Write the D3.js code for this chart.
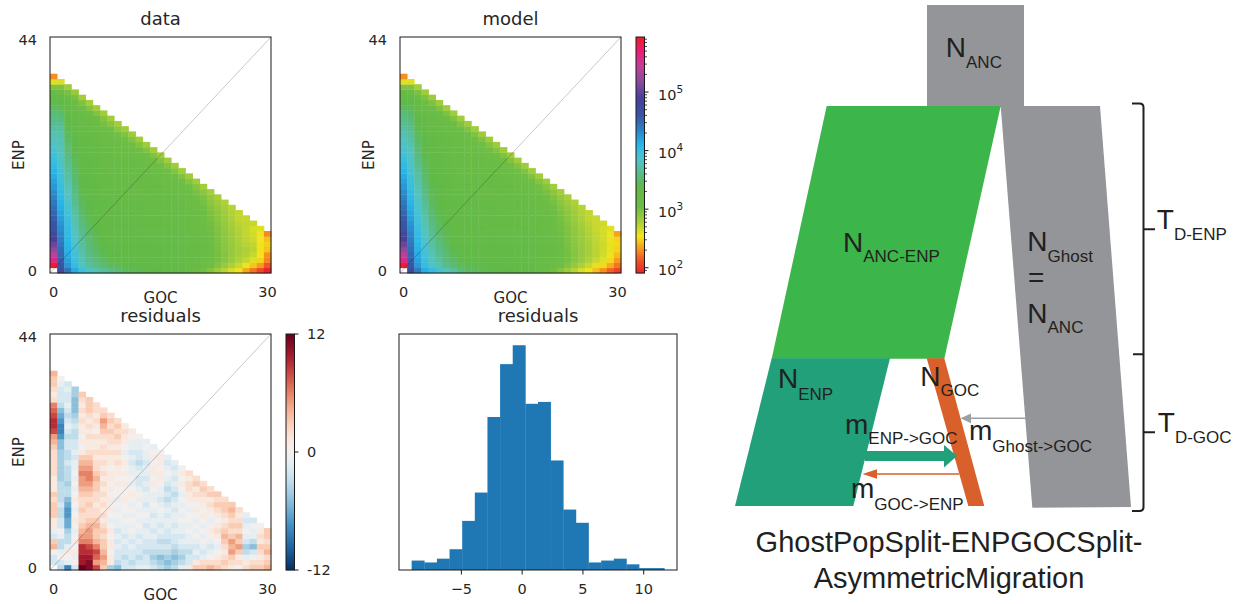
<!DOCTYPE html>
<html>
<head>
<meta charset="utf-8">
<script src="https://cdn.jsdelivr.net/npm/d3@7/dist/d3.min.js"></script>
<style>
  html, body { margin: 0; padding: 0; background: #fff; }
  svg { display: block; }
</style>
</head>
<body>
<svg id="fig" width="1257" height="604"></svg>
<script>
// ---------------------------------------------------------------------------
// Folded 2D site frequency spectrum, GOC (x, 0..30) vs ENP (y, 0..44).
// Each inner array is one GOC count; its index is the ENP count.
// Cells with ENP + GOC > 37 are folded away, and [0][0] is masked (null).
// Values are log10 of the SNP counts.
// ---------------------------------------------------------------------------
const gocMax = 30;
const enpMax = 44;
const xTickValues = [0, 30];
const yTickValues = [0, 44];

const dataLog10 = [
  [null,5.9,5.6,5.4,5.2,5.05,4.9,4.75,4.65,4.6,4.55,4.5,4.45,4.4,4.35,4.3,4.25,4.2,4.15,4.1,4.05,4.0,3.95,3.9,3.85,3.8,3.75,3.7,3.65,3.6,3.55,3.5,3.4,3.3,3.15,2.95,2.6,2.3],
  [4.75,4.6,4.55,4.5,4.46,4.42,4.38,4.34,4.3,4.26,4.22,4.18,4.14,4.1,4.06,4.03,4.0,3.97,3.94,3.91,3.88,3.85,3.82,3.8,3.78,3.77,3.73,3.69,3.65,3.58,3.52,3.45,3.37,3.28,3.12,2.95,2.62],
  [4.43,4.25,4.2,4.15,4.12,4.1,4.07,4.05,4.03,4.0,3.98,3.94,3.91,3.87,3.83,3.8,3.78,3.74,3.71,3.68,3.65,3.62,3.59,3.56,3.53,3.5,3.47,3.43,3.41,3.37,3.33,3.28,3.22,3.12,2.99,2.82],
  [4.16,4.02,3.98,3.94,3.92,3.88,3.86,3.83,3.8,3.76,3.74,3.71,3.68,3.64,3.62,3.6,3.57,3.55,3.52,3.5,3.47,3.46,3.43,3.41,3.39,3.36,3.34,3.31,3.28,3.26,3.22,3.16,3.09,2.99,2.85],
  [3.97,3.83,3.78,3.74,3.7,3.68,3.66,3.63,3.61,3.58,3.55,3.52,3.49,3.47,3.44,3.42,3.4,3.38,3.36,3.34,3.34,3.32,3.32,3.3,3.28,3.27,3.25,3.22,3.19,3.17,3.12,3.07,2.96,2.8],
  [3.85,3.69,3.64,3.61,3.57,3.56,3.53,3.5,3.49,3.46,3.44,3.42,3.4,3.38,3.36,3.35,3.32,3.31,3.29,3.28,3.28,3.27,3.26,3.26,3.24,3.21,3.2,3.17,3.15,3.1,3.04,2.95,2.8],
  [3.75,3.62,3.56,3.52,3.5,3.47,3.44,3.42,3.4,3.38,3.37,3.34,3.34,3.33,3.3,3.29,3.28,3.27,3.26,3.26,3.24,3.24,3.21,3.21,3.2,3.17,3.16,3.14,3.09,3.05,2.95,2.81],
  [3.67,3.55,3.49,3.44,3.41,3.37,3.36,3.33,3.32,3.31,3.29,3.29,3.27,3.27,3.25,3.25,3.23,3.23,3.21,3.21,3.19,3.19,3.17,3.16,3.16,3.13,3.1,3.06,3.0,2.94,2.81],
  [3.59,3.46,3.41,3.38,3.35,3.33,3.32,3.31,3.3,3.29,3.28,3.27,3.26,3.25,3.24,3.23,3.22,3.21,3.2,3.19,3.18,3.17,3.15,3.15,3.12,3.1,3.06,3.02,2.93,2.81],
  [3.55,3.46,3.41,3.38,3.35,3.33,3.32,3.31,3.3,3.29,3.27,3.27,3.25,3.25,3.23,3.22,3.2,3.2,3.18,3.17,3.15,3.15,3.13,3.12,3.09,3.05,3.01,2.92,2.8],
  [3.47,3.41,3.37,3.34,3.32,3.31,3.3,3.29,3.28,3.27,3.26,3.25,3.24,3.23,3.22,3.21,3.2,3.19,3.18,3.17,3.16,3.15,3.13,3.11,3.08,3.03,2.95,2.82],
  [3.44,3.39,3.35,3.33,3.31,3.3,3.29,3.28,3.27,3.26,3.25,3.24,3.23,3.22,3.21,3.2,3.19,3.18,3.17,3.16,3.15,3.13,3.11,3.08,3.03,2.95,2.82],
  [3.42,3.37,3.34,3.32,3.3,3.29,3.28,3.27,3.26,3.25,3.24,3.23,3.22,3.21,3.2,3.19,3.18,3.17,3.16,3.15,3.13,3.11,3.08,3.03,2.95,2.82],
  [3.4,3.36,3.33,3.31,3.29,3.28,3.27,3.26,3.25,3.24,3.23,3.22,3.21,3.2,3.19,3.18,3.17,3.16,3.15,3.13,3.11,3.08,3.03,2.95,2.82],
  [3.38,3.34,3.31,3.29,3.28,3.27,3.26,3.25,3.24,3.23,3.22,3.21,3.2,3.19,3.18,3.17,3.16,3.15,3.13,3.11,3.08,3.03,2.95,2.82],
  [3.36,3.32,3.3,3.28,3.27,3.26,3.25,3.24,3.23,3.22,3.21,3.2,3.19,3.18,3.17,3.16,3.15,3.13,3.11,3.08,3.03,2.95,2.82],
  [3.34,3.31,3.29,3.27,3.26,3.25,3.24,3.23,3.22,3.21,3.2,3.19,3.18,3.17,3.16,3.15,3.13,3.11,3.08,3.03,2.95,2.82],
  [3.32,3.29,3.27,3.26,3.25,3.24,3.23,3.22,3.21,3.2,3.19,3.18,3.17,3.16,3.15,3.13,3.11,3.08,3.03,2.95,2.82],
  [3.28,3.27,3.26,3.25,3.24,3.23,3.22,3.21,3.2,3.19,3.18,3.17,3.16,3.15,3.13,3.11,3.08,3.03,2.95,2.82],
  [3.15,3.2,3.22,3.22,3.21,3.2,3.19,3.18,3.17,3.16,3.15,3.14,3.13,3.11,3.09,3.06,3.02,2.94,2.82],
  [3.1,3.16,3.18,3.18,3.17,3.16,3.15,3.14,3.13,3.12,3.11,3.1,3.08,3.06,3.03,2.99,2.93,2.82],
  [3.02,3.1,3.13,3.13,3.12,3.11,3.1,3.09,3.08,3.07,3.06,3.04,3.02,2.99,2.96,2.91,2.81],
  [2.93,3.03,3.07,3.07,3.06,3.05,3.04,3.03,3.02,3.01,2.99,2.97,2.94,2.91,2.87,2.8],
  [2.83,2.95,3.0,3.0,2.99,2.98,2.97,2.96,2.95,2.94,2.92,2.9,2.87,2.83,2.78],
  [2.73,2.86,2.92,2.93,2.92,2.91,2.9,2.89,2.88,2.86,2.84,2.82,2.79,2.76],
  [2.62,2.77,2.84,2.86,2.86,2.85,2.84,2.83,2.81,2.79,2.77,2.75,2.73],
  [2.52,2.68,2.76,2.79,2.79,2.78,2.77,2.76,2.74,2.72,2.7,2.7],
  [2.36,2.56,2.69,2.75,2.77,2.73,2.71,2.69,2.69,2.7,2.69],
  [2.22,2.45,2.6,2.68,2.72,2.7,2.66,2.65,2.63,2.69],
  [2.08,2.33,2.48,2.53,2.52,2.56,2.53,2.55,2.6],
  [1.86,2.12,2.27,2.3,2.44,2.47,2.43,2.28]
];

const modelLog10 = [
  [null,5.9,5.6,5.4,5.2,5.05,4.9,4.75,4.65,4.6,4.55,4.5,4.45,4.4,4.35,4.3,4.25,4.2,4.15,4.1,4.05,4.0,3.95,3.9,3.85,3.8,3.75,3.7,3.65,3.6,3.55,3.5,3.4,3.3,3.15,2.95,2.6,2.3],
  [4.75,4.6,4.55,4.5,4.46,4.42,4.38,4.34,4.3,4.26,4.22,4.18,4.14,4.1,4.06,4.03,4.0,3.97,3.94,3.91,3.88,3.85,3.82,3.79,3.76,3.72,3.68,3.64,3.6,3.55,3.5,3.44,3.36,3.27,3.12,2.95,2.6],
  [4.4,4.25,4.2,4.16,4.12,4.09,4.06,4.03,4.0,3.97,3.94,3.91,3.88,3.85,3.82,3.79,3.76,3.73,3.7,3.67,3.64,3.61,3.58,3.55,3.52,3.49,3.46,3.43,3.4,3.36,3.32,3.27,3.21,3.11,2.98,2.8],
  [4.15,4.02,3.98,3.95,3.92,3.89,3.86,3.83,3.8,3.77,3.74,3.71,3.68,3.65,3.62,3.6,3.57,3.55,3.52,3.5,3.47,3.45,3.43,3.4,3.38,3.35,3.33,3.3,3.27,3.24,3.2,3.14,3.07,2.97,2.82],
  [4.02,3.87,3.82,3.78,3.74,3.71,3.68,3.65,3.62,3.59,3.56,3.53,3.5,3.48,3.46,3.44,3.42,3.4,3.38,3.36,3.35,3.33,3.32,3.3,3.28,3.27,3.25,3.22,3.2,3.17,3.13,3.07,2.97,2.82],
  [3.9,3.74,3.69,3.65,3.61,3.58,3.55,3.52,3.5,3.47,3.45,3.43,3.41,3.39,3.37,3.36,3.34,3.33,3.31,3.3,3.29,3.28,3.27,3.26,3.24,3.22,3.2,3.18,3.15,3.11,3.06,2.97,2.82],
  [3.78,3.64,3.58,3.54,3.51,3.48,3.45,3.43,3.41,3.39,3.37,3.35,3.34,3.33,3.31,3.3,3.29,3.28,3.27,3.26,3.25,3.24,3.22,3.21,3.2,3.18,3.16,3.14,3.1,3.05,2.96,2.82],
  [3.68,3.56,3.5,3.45,3.41,3.38,3.36,3.34,3.32,3.31,3.3,3.29,3.28,3.27,3.26,3.25,3.24,3.23,3.22,3.21,3.2,3.19,3.18,3.17,3.16,3.14,3.12,3.09,3.04,2.96,2.82],
  [3.55,3.46,3.41,3.38,3.35,3.33,3.32,3.31,3.3,3.29,3.28,3.27,3.26,3.25,3.24,3.23,3.22,3.21,3.2,3.19,3.18,3.17,3.16,3.15,3.13,3.11,3.08,3.03,2.95,2.82],
  [3.5,3.43,3.39,3.36,3.34,3.32,3.31,3.3,3.29,3.28,3.27,3.26,3.25,3.24,3.23,3.22,3.21,3.2,3.19,3.18,3.17,3.16,3.15,3.13,3.11,3.08,3.03,2.95,2.82],
  [3.47,3.41,3.37,3.34,3.32,3.31,3.3,3.29,3.28,3.27,3.26,3.25,3.24,3.23,3.22,3.21,3.2,3.19,3.18,3.17,3.16,3.15,3.13,3.11,3.08,3.03,2.95,2.82],
  [3.44,3.39,3.35,3.33,3.31,3.3,3.29,3.28,3.27,3.26,3.25,3.24,3.23,3.22,3.21,3.2,3.19,3.18,3.17,3.16,3.15,3.13,3.11,3.08,3.03,2.95,2.82],
  [3.42,3.37,3.34,3.32,3.3,3.29,3.28,3.27,3.26,3.25,3.24,3.23,3.22,3.21,3.2,3.19,3.18,3.17,3.16,3.15,3.13,3.11,3.08,3.03,2.95,2.82],
  [3.4,3.36,3.33,3.31,3.29,3.28,3.27,3.26,3.25,3.24,3.23,3.22,3.21,3.2,3.19,3.18,3.17,3.16,3.15,3.13,3.11,3.08,3.03,2.95,2.82],
  [3.38,3.34,3.31,3.29,3.28,3.27,3.26,3.25,3.24,3.23,3.22,3.21,3.2,3.19,3.18,3.17,3.16,3.15,3.13,3.11,3.08,3.03,2.95,2.82],
  [3.36,3.32,3.3,3.28,3.27,3.26,3.25,3.24,3.23,3.22,3.21,3.2,3.19,3.18,3.17,3.16,3.15,3.13,3.11,3.08,3.03,2.95,2.82],
  [3.34,3.31,3.29,3.27,3.26,3.25,3.24,3.23,3.22,3.21,3.2,3.19,3.18,3.17,3.16,3.15,3.13,3.11,3.08,3.03,2.95,2.82],
  [3.32,3.29,3.27,3.26,3.25,3.24,3.23,3.22,3.21,3.2,3.19,3.18,3.17,3.16,3.15,3.13,3.11,3.08,3.03,2.95,2.82],
  [3.28,3.27,3.26,3.25,3.24,3.23,3.22,3.21,3.2,3.19,3.18,3.17,3.16,3.15,3.13,3.11,3.08,3.03,2.95,2.82],
  [3.15,3.2,3.22,3.22,3.21,3.2,3.19,3.18,3.17,3.16,3.15,3.14,3.13,3.11,3.09,3.06,3.02,2.94,2.82],
  [3.1,3.16,3.18,3.18,3.17,3.16,3.15,3.14,3.13,3.12,3.11,3.1,3.08,3.06,3.03,2.99,2.93,2.82],
  [3.02,3.1,3.13,3.13,3.12,3.11,3.1,3.09,3.08,3.07,3.06,3.04,3.02,2.99,2.96,2.91,2.81],
  [2.93,3.03,3.07,3.07,3.06,3.05,3.04,3.03,3.02,3.01,2.99,2.97,2.94,2.91,2.87,2.8],
  [2.83,2.95,3.0,3.0,2.99,2.98,2.97,2.96,2.95,2.94,2.92,2.9,2.87,2.83,2.78],
  [2.73,2.86,2.92,2.93,2.92,2.91,2.9,2.89,2.88,2.86,2.84,2.82,2.79,2.76],
  [2.62,2.77,2.84,2.86,2.86,2.85,2.84,2.83,2.81,2.79,2.77,2.75,2.73],
  [2.52,2.68,2.76,2.79,2.79,2.78,2.77,2.76,2.74,2.72,2.7,2.7],
  [2.42,2.58,2.68,2.72,2.72,2.71,2.7,2.69,2.68,2.67,2.68],
  [2.3,2.5,2.6,2.65,2.66,2.66,2.65,2.64,2.63,2.66],
  [2.17,2.38,2.5,2.56,2.58,2.58,2.57,2.56,2.6],
  [2.05,2.22,2.33,2.42,2.48,2.5,2.48,2.35]
];

// Poisson residuals (model - data) / sqrt(model), same layout.
const residuals = [
  [null,-2,-2,0,4,3,-2,-1,1,1,3,3,3,2,3,1,1,1,2,2,2,2,2,3,4,5,8,9,9,8,7,6,2,1,2,3,3,4],
  [-3,-2,0,-1,-3,-3,-1,0,-2,-2,-3,-3,-2,-3,-3,-3,-3,-4,-4,-4,-4,-4,-4,-5,-5,-7,-8,-8,-7,-6,-5,-3,-2,-2,-2,-1,0],
  [-8,-1,0,1,-1,-3,-3,-4,-6,-6,-7,-7,-6,-5,-3,-3,-4,-3,-3,-3,-2,-3,-3,-2,-2,-3,-2,-1,-2,-3,-2,-1,-2,-2,-1,-2],
  [-2,0,-1,1,0,1,0,-1,0,1,0,-1,0,1,0,-1,0,-1,0,-1,-1,-2,-1,-2,-2,-3,-3,-2,-3,-4,-5,-5,-5,-4,-4],
  [12,10,10,9,9,6,5,4,3,2,2,3,2,2,3,4,5,5,6,5,4,3,1,0,1,0,1,1,2,1,2,1,2,3],
  [11,11,10,9,8,6,5,5,4,3,2,2,3,2,3,4,5,6,6,5,4,3,2,1,1,2,1,2,1,2,3,3,3],
  [8,5,7,8,6,4,3,3,4,3,2,2,1,2,2,3,3,4,3,2,2,1,2,1,1,2,0,1,2,1,2,2],
  [3,4,5,4,3,3,2,3,2,1,2,1,2,1,2,1,2,1,2,1,2,1,2,2,1,2,3,4,5,3,2],
  [-4,1,1,0,1,1,0,1,0,-1,0,1,0,1,0,1,0,1,1,0,1,1,2,1,2,2,3,2,3,2],
  [-5,-3,-2,-2,-1,-2,-1,-2,-1,-1,0,-1,0,-1,0,0,1,0,1,1,2,1,2,1,2,3,2,3,2],
  [-2,-2,-3,-2,-2,-1,-2,-1,-1,0,-1,0,0,1,0,0,1,0,1,0,1,0,-1,0,1,1,2,1],
  [-2,-3,-2,-2,-1,-2,-1,0,-1,0,-1,0,-1,0,1,0,-1,0,-1,-1,-2,-1,-2,-1,-1,0,1],
  [-1,-2,-3,-2,-2,-1,-2,-1,0,-1,0,-1,0,-1,0,-1,-2,-2,-1,-2,-3,-2,-2,-1,-1,0],
  [-1,-2,-2,-3,-2,-2,-1,-1,-2,-1,0,-1,-2,-1,-1,-2,-1,-2,-1,-1,-2,-1,-1,0,-1],
  [-2,-3,-4,-3,-2,-2,-1,-2,-1,-1,-2,-1,0,-1,-1,0,1,0,1,1,0,1,0,-1],
  [-3,-4,-5,-3,-2,-3,-2,-1,-2,-1,-1,0,-1,-2,-1,-1,0,1,1,0,1,1,0],
  [-4,-5,-4,-3,-2,-3,-2,-2,-1,-1,-2,-1,-2,-3,-2,-3,-2,-1,0,-1,-2,-1],
  [-3,-4,-5,-4,-3,-2,-2,-1,-2,-1,-1,-2,-1,-2,-3,-2,-1,-2,-1,-2,-1],
  [-1,-3,-4,-3,-2,-1,-2,-1,-1,0,-1,0,-1,0,-1,0,1,0,1,0],
  [1,-2,-2,-3,-2,-1,-1,0,-1,0,0,-1,0,1,1,2,2,1,2],
  [3,1,-2,-1,-2,-1,0,-1,0,-1,0,1,0,1,2,1,3,2],
  [3,2,-1,-2,-1,0,-1,0,-1,0,1,0,1,1,2,3,2],
  [4,2,0,-1,-2,-1,0,1,0,-1,0,1,2,1,3,2],
  [3,2,1,0,-1,0,1,2,1,0,1,2,3,2,3],
  [2,3,2,1,2,3,4,3,2,1,2,3,3,2],
  [1,2,3,5,4,5,3,2,3,2,3,4,3],
  [0,2,1,3,5,3,4,2,3,2,1,2],
  [2,1,-1,-3,-4,-2,-1,0,-1,-2,-1],
  [3,2,0,-2,-5,-3,-1,-1,0,-2],
  [3,2,1,2,3,1,2,1,0],
  [4,3,2,4,3,2,3,3]
];

// Colour scale limits (log10 counts) and tick values
const countLog10Range = [1.91, 5.94];
const countExponentTicks = [2, 3, 4, 5];
const residualLimit = 12;
const residualTicks = [-12, 0, 12];

// Histogram of residuals: 20 equal bins between the two edges
const histEdges = [-9.05, 11.74];
const histCounts = [5, 4, 6, 11, 26, 41, 81, 109, 119, 88, 89, 58, 32, 25, 4, 5, 6, 3, 1, 1];
const histTicks = [-5, 0, 5, 10];

// ---------------------------------------------------------------------------
const svg = d3.select('#fig');
const TXT = '#262626';
const MPL_FONT = '"DejaVu Sans", sans-serif';
const ART_FONT = '"Liberation Sans", Arial, sans-serif';
const PW = 221, PH = 236;

// hsv-like log colour map (red - yellow - green - cyan - blue - magenta - red)
const countStops = [
  [0.00, '#ec2227'], [0.05, '#f04e2a'], [0.10, '#f7941d'], [0.155, '#f4e61b'],
  [0.215, '#a9cf3a'], [0.28, '#6cbd45'], [0.37, '#60b948'], [0.42, '#58bc86'],
  [0.47, '#55c3bd'], [0.51, '#3fc0dc'], [0.545, '#27b6ea'], [0.60, '#2b87c8'], [0.665, '#3756a5'],
  [0.74, '#47409a'], [0.81, '#8a4a9e'], [0.875, '#c23f96'], [0.935, '#ec1c7a'], [1.0, '#ed1c24']
];
const countInterp = d3.scaleLinear()
  .domain(countStops.map(s => s[0]))
  .range(countStops.map(s => s[1]))
  .interpolate(d3.interpolateRgb)
  .clamp(true);
const countColor = v => countInterp((v - countLog10Range[0]) / (countLog10Range[1] - countLog10Range[0]));
const residColor = d3.scaleSequential([residualLimit, -residualLimit], d3.interpolateRdBu).clamp(true);

function heatPanel(ox, oy, grid, fill, title) {
  const g = svg.append('g').attr('transform', `translate(${ox},${oy})`);
  const x = d3.scaleLinear().domain([-0.5, gocMax + 0.5]).range([0, PW]);
  const y = d3.scaleLinear().domain([-0.5, enpMax + 0.5]).range([PH, 0]);
  const cells = [];
  grid.forEach((col, j) => col.forEach((v, i) => { if (v !== null) cells.push({ j, i, v }); }));
  const cw = x(0.5) - x(-0.5), ch = y(-0.5) - y(0.5);
  g.append('g').selectAll('rect').data(cells).join('rect')
    .attr('x', d => x(d.j - 0.5))
    .attr('y', d => y(d.i + 0.5))
    .attr('width', cw + 0.4)
    .attr('height', ch + 0.4)
    .attr('fill', d => fill(d.v));
  // diagonal guide
  g.append('line')
    .attr('x1', x(-0.5)).attr('y1', y(-0.5))
    .attr('x2', x(gocMax + 0.5)).attr('y2', y(enpMax + 0.5))
    .attr('stroke', '#000').attr('stroke-opacity', 0.22).attr('stroke-width', 1);
  g.append('rect').attr('width', PW).attr('height', PH)
    .attr('fill', 'none').attr('stroke', '#1a1a1a').attr('stroke-width', 1);
  g.selectAll('text.yt').data(yTickValues).join('text')
    .attr('x', -13).attr('y', d => y(d) + 5.2)
    .attr('text-anchor', 'end').attr('font-size', 14.5)
    .attr('font-family', MPL_FONT).attr('fill', TXT).text(d => d);
  g.selectAll('text.xt').data(xTickValues).join('text')
    .attr('x', d => x(d)).attr('y', PH + 24)
    .attr('text-anchor', 'middle').attr('font-size', 14.5)
    .attr('font-family', MPL_FONT).attr('fill', TXT).text(d => d);
  g.append('text').attr('x', PW / 2).attr('y', PH + 30)
    .attr('text-anchor', 'middle').attr('font-size', 15)
    .attr('font-family', MPL_FONT).attr('fill', TXT).text('GOC');
  g.append('text').attr('transform', `translate(-26.5,${PH / 2}) rotate(-90)`)
    .attr('text-anchor', 'middle').attr('font-size', 15)
    .attr('font-family', MPL_FONT).attr('fill', TXT).text('ENP');
  g.append('text').attr('x', PW / 2).attr('y', -12)
    .attr('text-anchor', 'middle').attr('font-size', 18)
    .attr('font-family', MPL_FONT).attr('fill', TXT).text(title);
  return g;
}

heatPanel(50, 37, dataLog10, countColor, 'data');
heatPanel(400, 37, modelLog10, countColor, 'model');
heatPanel(50, 334, residuals, residColor, 'residuals');

// ---- log colour bar for counts
(function () {
  const g = svg.append('g').attr('transform', 'translate(636,37)');
  const w = 8.5;
  const cy = d3.scaleLinear().domain(countLog10Range).range([PH, 0]);
  g.selectAll('rect.strip').data(d3.range(0, PH, 1)).join('rect')
    .attr('x', 0).attr('y', d => d).attr('width', w).attr('height', 1.3)
    .attr('fill', d => countColor(cy.invert(d + 0.5)));
  g.append('rect').attr('width', w).attr('height', PH)
    .attr('fill', 'none').attr('stroke', '#1a1a1a').attr('stroke-width', 1);
  const minors = [];
  d3.range(1, 6).forEach(e => d3.range(2, 10).forEach(k => {
    const v = e + Math.log10(k);
    if (v > countLog10Range[0] && v < countLog10Range[1]) minors.push(v);
  }));
  g.selectAll('line.minor').data(minors).join('line')
    .attr('x1', w).attr('x2', w + 2.5)
    .attr('y1', d => cy(d)).attr('y2', d => cy(d))
    .attr('stroke', '#1a1a1a').attr('stroke-width', 0.8);
  g.selectAll('line.major').data(countExponentTicks).join('line')
    .attr('x1', w).attr('x2', w + 4)
    .attr('y1', d => cy(d)).attr('y2', d => cy(d))
    .attr('stroke', '#1a1a1a').attr('stroke-width', 1);
  const lab = g.selectAll('text.lab').data(countExponentTicks).join('text')
    .attr('x', 22).attr('y', d => cy(d) + 7.5)
    .attr('font-size', 14.5).attr('font-family', MPL_FONT).attr('fill', TXT);
  lab.append('tspan').text('10');
  lab.append('tspan').attr('dy', -7).attr('font-size', 10.5).text(d => d);
})();

// ---- residual colour bar
(function () {
  const g = svg.append('g').attr('transform', 'translate(286,334)');
  const w = 8.5;
  const ry = d3.scaleLinear().domain([-residualLimit, residualLimit]).range([PH, 0]);
  g.selectAll('rect.strip').data(d3.range(0, PH, 1)).join('rect')
    .attr('x', 0).attr('y', d => d).attr('width', w).attr('height', 1.3)
    .attr('fill', d => residColor(ry.invert(d + 0.5)));
  g.append('rect').attr('width', w).attr('height', PH)
    .attr('fill', 'none').attr('stroke', '#1a1a1a').attr('stroke-width', 1);
  g.selectAll('line.t').data(residualTicks).join('line')
    .attr('x1', w).attr('x2', w + 4)
    .attr('y1', d => ry(d)).attr('y2', d => ry(d))
    .attr('stroke', '#1a1a1a').attr('stroke-width', 1);
  g.selectAll('text.t').data(residualTicks).join('text')
    .attr('x', 21).attr('y', d => ry(d) + 5.3)
    .attr('font-size', 14.5).attr('font-family', MPL_FONT).attr('fill', TXT)
    .text(d => d);
})();

// ---- histogram of residuals
(function () {
  const HW = 278, HH = 236;
  const g = svg.append('g').attr('transform', 'translate(399,334)');
  const span = histEdges[1] - histEdges[0];
  const hx = d3.scaleLinear().domain([histEdges[0] - 0.05 * span, histEdges[1] + 0.05 * span]).range([0, HW]);
  const bw = span / histCounts.length;
  const hy = d3.scaleLinear().domain([0, d3.max(histCounts) * 1.05]).range([HH, 0]);
  g.selectAll('rect.bar').data(histCounts).join('rect')
    .attr('x', (d, k) => hx(histEdges[0] + k * bw))
    .attr('width', hx(bw) - hx(0) + 0.3)
    .attr('y', d => hy(d))
    .attr('height', d => HH - hy(d))
    .attr('fill', '#1f77b4');
  g.append('rect').attr('width', HW).attr('height', HH)
    .attr('fill', 'none').attr('stroke', '#1a1a1a').attr('stroke-width', 1);
  const ax = g.append('g').attr('transform', `translate(0,${HH})`)
    .call(d3.axisBottom(hx).tickValues(histTicks).tickSize(4.5).tickPadding(9)
      .tickFormat(d => d < 0 ? '\u2212' + Math.abs(d) : String(d)));
  ax.select('.domain').remove();
  ax.selectAll('line').attr('stroke', '#1a1a1a');
  ax.selectAll('text').attr('font-size', 14.5).attr('font-family', MPL_FONT).attr('fill', TXT);
  g.append('text').attr('x', HW / 2).attr('y', -12)
    .attr('text-anchor', 'middle').attr('font-size', 18)
    .attr('font-family', MPL_FONT).attr('fill', TXT).text('residuals');
})();

// ---------------------------------------------------------------------------
// Demographic model schematic
// ---------------------------------------------------------------------------
const GRAY = '#939598', GREEN = '#3cb54a', TEAL = '#21a07a', ORANGE = '#d9602a', INK = '#231f20';
const branches = [
  { fill: GRAY,   pts: [[927, 5], [1024, 5], [1024, 107], [927, 107]] },
  { fill: GRAY,   pts: [[1000.7, 106], [1100, 106], [1131, 507], [1032.3, 507.7]] },
  { fill: GREEN,  pts: [[826.7, 106], [1000.7, 106], [944.3, 358.8], [771.7, 358.8]] },
  { fill: TEAL,   pts: [[771.7, 358.3], [890, 358.3], [853.3, 506], [735, 506]] },
  { fill: ORANGE, pts: [[926.7, 358.3], [944.3, 358.3], [984.3, 506], [968.3, 506]] }
];
const dg = svg.append('g');
dg.selectAll('path.branch').data(branches).join('path')
  .attr('d', d => 'M' + d.pts.map(p => p.join(',')).join('L') + 'Z')
  .attr('fill', d => d.fill);

// migration arrows
dg.append('line').attr('x1', 1026).attr('y1', 418.3).attr('x2', 969).attr('y2', 418.3)
  .attr('stroke', '#9d9fa2').attr('stroke-width', 1.6);
dg.append('path').attr('d', 'M960.5,418.3L971,413.4L971,423.2Z').attr('fill', '#9d9fa2');
dg.append('path')
  .attr('d', 'M865,451L944,451L944,445L957,456L944,467.5L944,461L865,461Z')
  .attr('fill', TEAL);
dg.append('line').attr('x1', 959).attr('y1', 474).attr('x2', 874).attr('y2', 474)
  .attr('stroke', ORANGE).attr('stroke-width', 1.6);
dg.append('path').attr('d', 'M862.5,474L877,469.3L877,478.7Z').attr('fill', ORANGE);

// time brackets
dg.append('path')
  .attr('d', 'M1132,103.5L1139.5,103.5Q1143.5,103.5 1143.5,107.5L1143.5,507Q1143.5,511 1139.5,511L1132,511' +
             'M1133,354.3L1143.5,354.3M1143.5,229.3L1155,229.3M1143.5,432.3L1155,432.3')
  .attr('fill', 'none').attr('stroke', INK).attr('stroke-width', 2);

const diagramLabels = [
  { x: 945.8,  y: 57.3,  main: 'N', sub: 'ANC',        dy: 10.4 },
  { x: 843,    y: 251.7, main: 'N', sub: 'ANC-ENP',    dy: 10 },
  { x: 1027.3, y: 250.7, main: 'N', sub: 'Ghost',      dy: 11 },
  { x: 1027.3, y: 323.3, main: 'N', sub: 'ANC',        dy: 10 },
  { x: 1156.8, y: 229.3, main: 'T', sub: 'D-ENP',      dy: 10.7 },
  { x: 778,    y: 388.3, main: 'N', sub: 'ENP',        dy: 11.7 },
  { x: 920.3,  y: 386,   main: 'N', sub: 'GOC',        dy: 10 },
  { x: 845,    y: 434,   main: 'm', sub: 'ENP->GOC',   dy: 10 },
  { x: 969,    y: 440,   main: 'm', sub: 'Ghost->GOC', dy: 11.7 },
  { x: 1157.8, y: 431.7, main: 'T', sub: 'D-GOC',      dy: 11.6 },
  { x: 851,    y: 498.3, main: 'm', sub: 'GOC->ENP',   dy: 11.7 }
];
const lt = dg.selectAll('text.lab').data(diagramLabels).join('text')
  .attr('x', d => d.x).attr('y', d => d.y)
  .attr('font-family', ART_FONT).attr('font-size', 28).attr('fill', INK);
lt.append('tspan').text(d => d.main);
lt.append('tspan').attr('dy', d => d.dy).attr('font-size', 17).text(d => d.sub);

dg.append('text').attr('x', 1028).attr('y', 287)
  .attr('font-family', ART_FONT).attr('font-size', 28).attr('fill', INK).text('=');

const modelName = ['GhostPopSplit-ENPGOCSplit-', 'AsymmetricMigration'];
dg.selectAll('text.title').data(modelName).join('text')
  .attr('x', 949).attr('y', (d, k) => 551.7 + k * 36.6)
  .attr('text-anchor', 'middle')
  .attr('font-family', ART_FONT).attr('font-size', 29).attr('fill', INK)
  .text(d => d);
</script>
</body>
</html>
